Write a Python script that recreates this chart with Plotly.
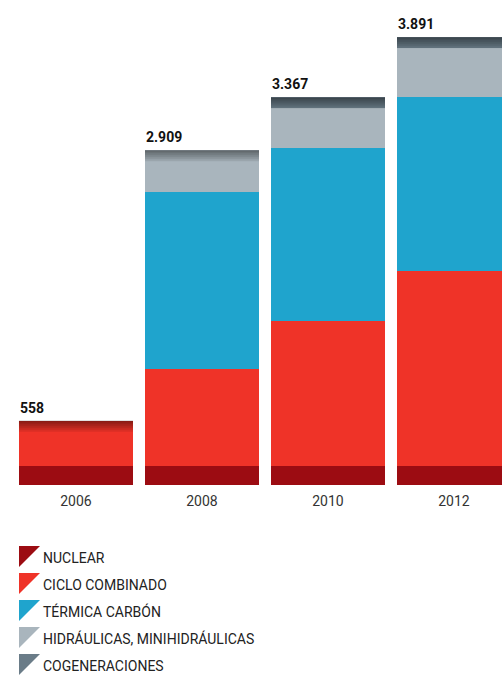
import plotly.graph_objects as go

# ---- data ----
years = ["2006", "2008", "2010", "2012"]
totals = [558, 2909, 3367, 3891]
total_labels = ["558", "2.909", "3.367", "3.891"]

series_names = ["NUCLEAR", "CICLO COMBINADO", "TÉRMICA CARBÓN",
                "HIDRÁULICAS, MINIHIDRÁULICAS", "COGENERACIONES"]
nuclear = [165, 165, 165, 165]
ciclo_combinado = [393, 847, 1260, 1694]
termica_carbon = [0, 1536, 1502, 1510]
hidraulicas = [0, 361, 345, 426]
cogeneraciones = [0, 0, 95, 96]
series_values = [nuclear, ciclo_combinado, termica_carbon, hidraulicas, cogeneraciones]
series_colors = ["#9c0c12", "#ef3328", "#1fa4cd", "#a9b5bd", "#6a7c88"]

# ---- layout constants ----
W, H = 502, 680
plot_bottom = 485           # pixel y of baseline
y_max = 4214                # top of value axis
bargap = 0.095
bar_w = 1 - bargap
x_range = [-0.603, 3.381]
px_per_unit = plot_bottom / y_max

fig = go.Figure()
for name, vals, col in zip(series_names, series_values, series_colors):
    fig.add_trace(go.Bar(
        x=list(range(len(years))), y=vals, name=name,
        marker=dict(color=col, line=dict(width=0)),
        showlegend=False, hoverinfo="skip",
    ))

# top shading (gradient imitation) on each bar, derived from totals
shade_px = [11, 9, 7, 5, 3, 1.5]
shapes = []
for i, t in enumerate(totals):
    for h in shade_px:
        shapes.append(dict(
            type="rect", xref="x", yref="y",
            x0=i - bar_w / 2, x1=i + bar_w / 2,
            y0=t - h / px_per_unit, y1=t,
            fillcolor="rgba(0,0,0,0.085)", line=dict(width=0), layer="above",
        ))

annotations = []
for i, (t, lab) in enumerate(zip(totals, total_labels)):
    annotations.append(dict(
        x=i - bar_w / 2, y=t, xref="x", yref="y", text=lab,
        showarrow=False, xanchor="left", yanchor="bottom", yshift=3,
        xshift=-1,
        font=dict(family="Roboto", size=14, color="#111111", weight="bold"),
    ))

# legend (manual, triangle icons)
leg_x0, leg_top, leg_step, icon = 19, 546, 27, 21
def py2paper(py):
    return (plot_bottom - py) / plot_bottom
for k, (name, col) in enumerate(zip(series_names, series_colors)):
    top = leg_top + k * leg_step
    x0p, x1p = leg_x0 / W, (leg_x0 + icon) / W
    y0p, y1p = py2paper(top), py2paper(top + icon)
    shapes.append(dict(
        type="path", xref="paper", yref="paper",
        path=f"M {x0p} {y0p} L {x1p} {y0p} L {x0p} {y1p} Z",
        fillcolor=col, line=dict(width=0),
    ))
    annotations.append(dict(
        x=(leg_x0 + icon + 1) / W, y=py2paper(top + 11.5), xref="paper", yref="paper",
        text=name, showarrow=False, xanchor="left", yanchor="middle",
        font=dict(family="Roboto", size=14, color="#222222", weight=400),
    ))

fig.update_layout(
    width=W, height=H,
    margin=dict(l=0, r=0, t=0, b=H - plot_bottom, pad=0),
    barmode="stack", bargap=bargap,
    plot_bgcolor="white", paper_bgcolor="white",
    shapes=shapes, annotations=annotations,
    showlegend=False,
    xaxis=dict(
        range=x_range, tickmode="array", tickvals=list(range(len(years))),
        ticktext=years, showgrid=False, zeroline=False, showline=False,
        ticks="outside", ticklen=3, tickcolor="rgba(0,0,0,0)",
        tickfont=dict(family="Roboto", size=14, color="#333333", weight=400),
        fixedrange=True,
    ),
    yaxis=dict(range=[0, y_max], visible=False, showgrid=False, zeroline=False,
               fixedrange=True),
)

fig.write_html("out.html", config={"displayModeBar": False},
               post_script="document.body.style.margin='0px';")
